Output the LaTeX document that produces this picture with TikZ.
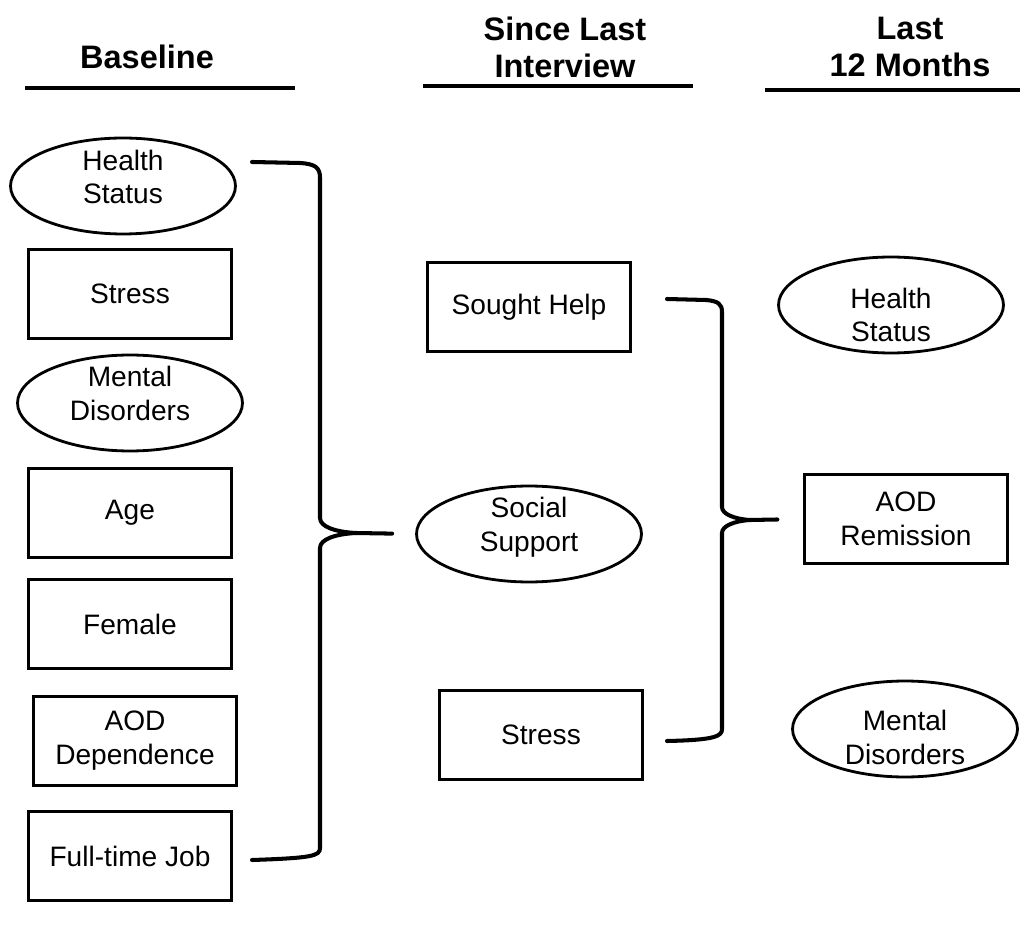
\documentclass[tikz,border=0pt]{standalone}
\usepackage{fontspec}
\setmainfont{Liberation Sans}
\usetikzlibrary{shapes.geometric}
\tikzstyle{header} = [font=\fontsize{18.5}{21}\selectfont\bfseries, align=center, inner sep=0pt]
\tikzstyle{rule} = [line width=2.3pt]
\tikzstyle{var} = [rectangle, minimum width=4.05cm, minimum height=1.78cm, align=center, draw=black, line width=1.6pt, font=\fontsize{16}{19.3}\selectfont]
\tikzstyle{latent} = [ellipse, minimum width=4.5cm, minimum height=1.92cm, inner sep=0pt, draw=black, line width=1.6pt]
\tikzstyle{lbl} = [align=center, inner sep=0pt, font=\fontsize{16}{19.3}\selectfont]
\tikzstyle{brace} = [line width=2.3pt, line cap=round]

\begin{document}
\begin{tikzpicture}[x=0.02cm, y=-0.02cm]
      \useasboundingbox (0,0) rectangle (1020,928);
      \node (hbase) [header] at (147,57) {Baseline};
      \node (hsince) [header] at (565,47) {Since Last\\Interview};
      \node (hlast) [header] at (910,47) {Last\\12 Months};
      \draw [rule] (25,88) -- (295,88);
      \draw [rule] (423,86) -- (693,86);
      \draw [rule] (765,90) -- (1020,90);
      \node (bhealth) [latent] at (123,186) {};
      \node (bhealthtxt) [lbl] at (123,177) {Health\\Status};
      \node (bstress) [var] at (130,294) {Stress};
      \node (bmental) [latent] at (130,403) {};
      \node (bmentaltxt) [lbl] at (130,393) {Mental\\Disorders};
      \node (bage) [var] at (130,513) {Age};
      \node (bfemale) [var] at (130,624) {Female};
      \node (bdep) [var] at (135,741) {AOD\\Dependence};
      \node (bjob) [var] at (130,856) {Full-time Job};
      \node (help) [var] at (529,307) {Sought Help};
      \node (support) [latent] at (529,534) {};
      \node (supporttxt) [lbl] at (529,527) {Social\\Support};
      \node (mstress) [var] at (541,735) {Stress};
      \node (lhealth) [latent] at (891,305) {};
      \node (lhealthtxt) [lbl] at (891,315) {Health\\Status};
      \node (remit) [var] at (906,519) {AOD\\Remission};
      \node (lmental) [latent] at (905,729) {};
      \node (lmentaltxt) [lbl] at (905,737) {Mental\\Disorders};
      \coordinate (b1top) at (252,162);
      \coordinate (b1bot) at (252,860);
      \coordinate (b2top) at (667,299);
      \coordinate (b2bot) at (667,741);
      \draw [brace, shorten >=0.46cm] (b1top) -- (300,163) .. controls (316,164) and (320,168) .. (320,178) -- (320,518)
            .. controls (320,527) and (336,532) .. (356,533) -- (support.west);
      \draw [brace] (356,533) .. controls (336,534) and (320,539) .. (320,548) -- (320,848)
            .. controls (320,856) and (312,858) .. (b1bot);
      \draw [brace, shorten >=0.52cm] (b2top) -- (706,300) .. controls (718,301) and (722,304) .. (722,312) -- (722,507)
            .. controls (722,514) and (734,519) .. (750,520) -- (remit.west);
      \draw [brace] (750,520) .. controls (734,521) and (722,526) .. (722,533) -- (722,729)
            .. controls (722,736) and (716,740) .. (b2bot);
    \end{tikzpicture}
\end{document}
